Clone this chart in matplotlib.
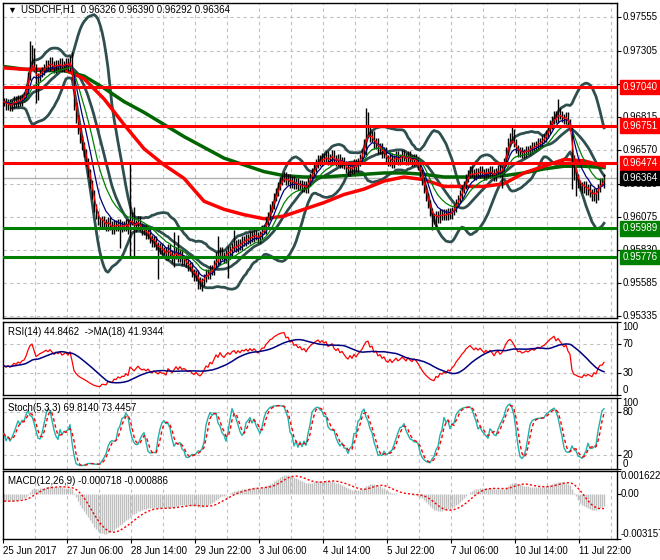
import matplotlib
matplotlib.use("Agg")
import matplotlib.pyplot as plt
import numpy as np
import pandas as pd

plt.rcParams["font.family"] = ["Liberation Sans", "DejaVu Sans"]

# hourly closes, one per bar
CLOSES = [
    0.9693, 0.9690, 0.9692, 0.9689, 0.9691, 0.9694, 0.9692, 0.9695, 0.9693, 0.9696,
    0.9697, 0.9702, 0.9712, 0.9722, 0.9726, 0.9718, 0.9708, 0.9711, 0.9714, 0.9716,
    0.9718, 0.9721, 0.9719, 0.9723, 0.9720, 0.9717, 0.9721, 0.9719, 0.9722, 0.9718,
    0.9720, 0.9722, 0.9719, 0.9724, 0.9712, 0.9690, 0.9680, 0.9672, 0.9665, 0.9660,
    0.9655, 0.9648, 0.9640, 0.9632, 0.9624, 0.9614, 0.9609, 0.9604, 0.9602, 0.9605,
    0.9603, 0.9600, 0.9604, 0.9601, 0.9598, 0.9602, 0.9600, 0.9603, 0.9599, 0.9601,
    0.9600, 0.9603, 0.9598, 0.9608, 0.9604, 0.9599, 0.9602, 0.9605, 0.9600, 0.9597,
    0.9598, 0.9594, 0.9596, 0.9591, 0.9588, 0.9590, 0.9586, 0.9583, 0.9585, 0.9582,
    0.9582, 0.9578, 0.9584, 0.9580, 0.9576, 0.9579, 0.9582, 0.9577, 0.9580, 0.9575,
    0.9576, 0.9573, 0.9570, 0.9571, 0.9566, 0.9563, 0.9565, 0.9560, 0.9557, 0.9559,
    0.9562, 0.9566, 0.9564, 0.9569, 0.9567, 0.9572, 0.9578, 0.9575, 0.9582, 0.9578,
    0.9576, 0.9580, 0.9583, 0.9581, 0.9585, 0.9587, 0.9584, 0.9588, 0.9586, 0.9590,
    0.9589, 0.9592, 0.9590, 0.9594, 0.9592, 0.9595, 0.9593, 0.9591, 0.9594, 0.9598,
    0.9598, 0.9604, 0.9608, 0.9614, 0.9616, 0.9622, 0.9626, 0.9630, 0.9634, 0.9636,
    0.9638, 0.9634, 0.9636, 0.9632, 0.9635, 0.9631, 0.9633, 0.9630, 0.9632, 0.9629,
    0.9631, 0.9628, 0.9633, 0.9637, 0.9641, 0.9644, 0.9647, 0.9650, 0.9648, 0.9652,
    0.9650, 0.9653, 0.9649, 0.9651, 0.9654, 0.9650, 0.9648, 0.9651, 0.9647, 0.9649,
    0.9646, 0.9643, 0.9641, 0.9645, 0.9642, 0.9647, 0.9644, 0.9648, 0.9651, 0.9655,
    0.9662, 0.9670, 0.9672, 0.9666, 0.9668, 0.9661, 0.9663, 0.9657, 0.9659, 0.9654,
    0.9656, 0.9650, 0.9648, 0.9652, 0.9647, 0.9650, 0.9653, 0.9649, 0.9651, 0.9654,
    0.9652, 0.9649, 0.9653, 0.9650, 0.9648, 0.9651, 0.9649, 0.9645, 0.9640, 0.9634,
    0.9628, 0.9622, 0.9617, 0.9611, 0.9607, 0.9605, 0.9609, 0.9606, 0.9610, 0.9608,
    0.9610, 0.9608, 0.9611, 0.9609, 0.9612, 0.9614, 0.9618, 0.9621, 0.9624, 0.9628,
    0.9631, 0.9636, 0.9639, 0.9642, 0.9640, 0.9638, 0.9641, 0.9639, 0.9642, 0.9640,
    0.9638, 0.9641, 0.9639, 0.9642, 0.9640, 0.9637, 0.9641, 0.9643, 0.9640, 0.9642,
    0.9648, 0.9656, 0.9663, 0.9667, 0.9665, 0.9662, 0.9658, 0.9655, 0.9656, 0.9654,
    0.9655, 0.9657, 0.9656, 0.9658, 0.9660, 0.9659, 0.9661, 0.9663, 0.9662, 0.9665,
    0.9666, 0.9669, 0.9672, 0.9676, 0.9679, 0.9683, 0.9680, 0.9685, 0.9683, 0.9681,
    0.9679, 0.9682, 0.9677, 0.9674, 0.9650, 0.9638, 0.9636, 0.9632, 0.9630, 0.9628,
    0.9631, 0.9627, 0.9629, 0.9625, 0.9622, 0.9626, 0.9623, 0.9629, 0.9633, 0.9633,
    0.96364,
]

# bars whose wicks stick out further than usual
HIGH_SPIKES = {13: 0.9738, 14: 0.9735, 15: 0.9733, 34: 0.9730, 63: 0.9647, 65: 0.9615,
               85: 0.9596, 87: 0.9594, 107: 0.9593, 115: 0.9598, 181: 0.9688, 182: 0.9685,
               254: 0.9675, 255: 0.9673, 277: 0.9695, 284: 0.9675, 300: 0.96390}
LOW_SPIKES = {16: 0.9692, 17: 0.9694, 58: 0.9584, 63: 0.9578, 65: 0.9578, 77: 0.9561,
              85: 0.9570, 97: 0.9554, 99: 0.9552, 112: 0.9562, 181: 0.9653, 214: 0.9598,
              216: 0.9599, 249: 0.9629, 284: 0.9628, 286: 0.9623, 296: 0.9618, 300: 0.96292}

# slow moving averages, sampled every 10 bars
SLOW_STEP = 10
SLOW_RED = [0.9718, 0.9717, 0.9717, 0.9717, 0.9710, 0.9695, 0.9676, 0.9658, 0.9646, 0.9636,
            0.9619, 0.9613, 0.9609, 0.9606, 0.9608, 0.9613, 0.9618, 0.9624, 0.9628, 0.9634,
            0.9637, 0.9635, 0.9630, 0.9630, 0.9630, 0.9632, 0.9640, 0.9645, 0.9650, 0.9649,
            0.9645]
SLOW_GREEN = [0.9719, 0.9717, 0.9716, 0.9716, 0.9712, 0.9703, 0.9693, 0.9685, 0.9676, 0.9667,
              0.9659, 0.9651, 0.9646, 0.9641, 0.9638, 0.9637, 0.9637, 0.9638, 0.9639, 0.9640,
              0.9640, 0.9639, 0.9637, 0.9637, 0.9637, 0.9638, 0.9640, 0.9643, 0.9645, 0.9645,
              0.9644]

# indicator state just before the first visible bar
RSI_SEED = (0.00020, 0.00030)   # avg gain, avg loss
EMA12_SEED = 0.96970
EMA26_SEED = 0.97020

RED_LEVELS = [0.97040, 0.96751, 0.96474]
GREEN_LEVELS = [0.95989, 0.95776]
LAST_PRICE = 0.96364

PRICE_TICKS = [0.97555, 0.97305, 0.97060, 0.96815, 0.96570, 0.96320, 0.96075, 0.95830,
               0.95585, 0.95335]
DATE_LABELS = ["25 Jun 2017", "27 Jun 06:00", "28 Jun 14:00", "29 Jun 22:00", "3 Jul 06:00",
               "4 Jul 14:00", "5 Jul 22:00", "7 Jul 06:00", "10 Jul 14:00", "11 Jul 22:00"]

TITLE = "USDCHF,H1  0.96326 0.96390 0.96292 0.96364"
RSI_TITLE = "RSI(14) 44.8462  ->MA(18) 41.9344"
STOCH_TITLE = "Stoch(5,3,3) 69.8140 73.4457"
MACD_TITLE = "MACD(12,26,9) -0.000718 -0.000886"

W, H = 660, 560
GRID = dict(color="#c0c0c0", lw=0.8, ls=(0, (3, 3)), zorder=0)
FS = 7


def build_bars():
    close = pd.Series(CLOSES)
    opn = close.shift(1).fillna(close.iloc[0])
    opn.iloc[-1] = 0.96326
    pad = 0.0003
    high = np.maximum(opn, close) + pad
    low = np.minimum(opn, close) - pad
    for i, v in HIGH_SPIKES.items():
        high.iloc[i] = v
    for i, v in LOW_SPIKES.items():
        low.iloc[i] = v
    return opn, high, low, close


def seeded_ewm(series, seed, **kw):
    s = pd.concat([pd.Series([seed]), series], ignore_index=True)
    return s.ewm(adjust=False, **kw).mean().iloc[1:].reset_index(drop=True)


def panel(top, bottom, ticks):
    ax = fig.add_axes([3 / W, 1 - bottom / H, 614 / W, (bottom - top) / H])
    ax.set_xlim(-0.5, 306.5)
    ax.set_xticks([])
    ax.yaxis.tick_right()
    ax.set_yticks(ticks)
    ax.set_yticklabels([])
    ax.tick_params(axis="y", length=3, width=0.8)
    for s in ax.spines.values():
        s.set_linewidth(1.0)
    for k in range(1, 20):
        ax.axvline(16 * k - 0.5, **GRID)
    return ax


def right_label(ax, y, text, va="center", gap=5.5, **kw):
    ax.text(1 + gap / 614, y, text, transform=ax.get_yaxis_transform(), fontsize=FS,
            va=va, ha="left", clip_on=False, **kw)


opn, high, low, close = build_bars()
idx = np.arange(len(close))

fig = plt.figure(figsize=(W / 100, H / 100), dpi=100)

# ---- main price panel
ax = panel(3, 318, PRICE_TICKS)
ax.set_ylim(0.95323, 0.97662)
for p in PRICE_TICKS:
    ax.axhline(p, **GRID)
    if p != 0.97060:
        right_label(ax, p, f"{p:.5f}")
ax.axhline(LAST_PRICE, color="#b0b0b0", lw=1, zorder=1)

mid = close.rolling(20, min_periods=5).mean()
sd = close.rolling(20, min_periods=5).std(ddof=0)
for line in (mid + 2 * sd, mid, mid - 2 * sd):
    ax.plot(idx, line, color="#2f4f4f", lw=2, zorder=2)

slow_x = np.arange(len(SLOW_RED)) * SLOW_STEP
ax.plot(slow_x, SLOW_GREEN, color="#006400", lw=2.5, zorder=3)
ax.plot(slow_x, SLOW_RED, color="#ff0000", lw=2.5, zorder=3)

ax.vlines(idx, low, high, color="black", lw=1, zorder=4)

ax.plot(idx, close.ewm(span=15, adjust=False).mean(), color="#008000", lw=0.9, zorder=5)
ax.plot(idx, close.ewm(span=8, adjust=False).mean(), color="#000080", lw=0.9, zorder=5)
ax.plot(idx, close.ewm(span=3, adjust=False).mean(), color="#ff0000", lw=0.9, zorder=5)

for p in RED_LEVELS:
    ax.axhline(p, color="#ff0000", lw=2.2, zorder=6)
    right_label(ax, p, f"{p:.5f}", color="white",
                bbox=dict(facecolor="#ff0000", edgecolor="#ff0000", pad=1.6))
for p in GREEN_LEVELS:
    ax.axhline(p, color="#008000", lw=2.2, zorder=6)
    right_label(ax, p, f"{p:.5f}", color="white",
                bbox=dict(facecolor="#008000", edgecolor="#008000", pad=1.6))
right_label(ax, LAST_PRICE, f"{LAST_PRICE:.5f}", color="white",
            bbox=dict(facecolor="black", edgecolor="black", pad=1.6))

ax.text(4 / 614, 1 - 7 / 315, "\u25bc", transform=ax.transAxes, fontsize=6.5, va="center")
ax.text(18 / 614, 1 - 7 / 315, TITLE, transform=ax.transAxes, fontsize=FS, va="center")

# ---- RSI
ax_rsi = panel(322, 395, [100, 70, 30, 0])
ax_rsi.set_ylim(0, 100)
delta = close.diff().fillna(0)
gain = seeded_ewm(delta.clip(lower=0), RSI_SEED[0], alpha=1 / 14)
loss = seeded_ewm(-delta.clip(upper=0), RSI_SEED[1], alpha=1 / 14)
rsi = 100 - 100 / (1 + gain / loss)
ax_rsi.plot(idx, rsi, color="#ff0000", lw=0.9, zorder=3)
ax_rsi.plot(idx, rsi.rolling(18, min_periods=1).mean(), color="#000080", lw=1.1, zorder=4)
for lvl in (70, 30):
    ax_rsi.axhline(lvl, **GRID)
    right_label(ax_rsi, lvl, str(lvl))
right_label(ax_rsi, 100, "100", va="top")
right_label(ax_rsi, 0, "0", va="bottom")
ax_rsi.text(5 / 614, 1 - 10 / 73, RSI_TITLE, transform=ax_rsi.transAxes, fontsize=FS, va="center")

# ---- Stochastic
ax_st = panel(398, 469, [100, 80, 20, 0])
ax_st.set_ylim(0, 100)
hh = high.rolling(5, min_periods=1).max()
ll = low.rolling(5, min_periods=1).min()
k = (close - ll).rolling(3, min_periods=1).sum() / (hh - ll).rolling(3, min_periods=1).sum() * 100
d = k.rolling(3, min_periods=1).mean()
ax_st.plot(idx, k, color="#20b2aa", lw=1, zorder=3)
ax_st.plot(idx, d, color="#ff0000", lw=1, ls=(0, (2.5, 2)), zorder=4)
for lvl in (80, 20):
    ax_st.axhline(lvl, **GRID)
    right_label(ax_st, lvl, str(lvl))
right_label(ax_st, 100, "100", va="top")
right_label(ax_st, 0, "0", va="bottom")
ax_st.text(5 / 614, 1 - 10 / 71, STOCH_TITLE, transform=ax_st.transAxes, fontsize=FS, va="center")

# ---- MACD
ax_m = panel(471, 539, [0.001622, 0.0, -0.003157])
ax_m.set_ylim(-0.003157, 0.001622)
macd = seeded_ewm(close, EMA12_SEED, span=12) - seeded_ewm(close, EMA26_SEED, span=26)
signal = macd.rolling(9, min_periods=1).mean()
ax_m.vlines(idx, 0, macd, color="#c0c0c0", lw=1, zorder=2)
ax_m.plot(idx, signal, color="#ff0000", lw=1, ls=(0, (1.5, 1.5)), zorder=3)
right_label(ax_m, 0.001622, "0.001622", va="top", gap=4)
right_label(ax_m, 0.0, "0.00", gap=4)
right_label(ax_m, -0.003157, "-0.003157", va="bottom", gap=4)
ax_m.text(5 / 614, 1 - 10 / 68, MACD_TITLE, transform=ax_m.transAxes, fontsize=FS, va="center")

ax_m.set_xticks([32 * n - 0.5 for n in range(len(DATE_LABELS))])
ax_m.set_xticklabels(DATE_LABELS, fontsize=FS, ha="left")
ax_m.tick_params(axis="x", length=3, pad=2)

fig.savefig("out.png", dpi=100)
